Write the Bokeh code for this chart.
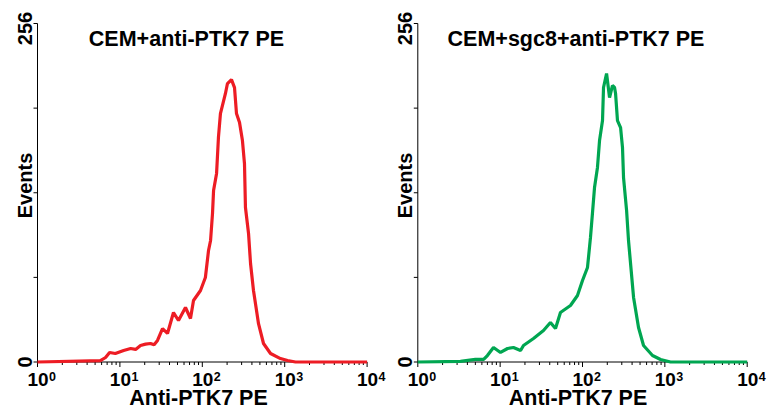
import math
from bokeh.plotting import figure
from bokeh.layouts import row
from bokeh.models import Range1d, Label
from bokeh.embed import file_html
from bokeh.resources import INLINE

# ---- data ----
titles = ["CEM+anti-PTK7 PE", "CEM+sgc8+anti-PTK7 PE"]
colors = ["#ED1C24", "#00A651"]
x_label = "Anti-PTK7 PE"
y_label = "Events"

x_ticks = [1, 10, 100, 1000, 10000]
x_tick_base = "10"
x_tick_exps = ["0", "1", "2", "3", "4"]
x_minor = [2, 3, 4, 5, 6, 7, 8, 9, 20, 30, 40, 50, 60, 70, 80, 90,
           200, 300, 400, 500, 600, 700, 800, 900,
           2000, 3000, 4000, 5000, 6000, 7000, 8000, 9000]
y_ticks = [0, 64, 128, 192, 256]
y_tick_labels = ["0", "", "", "", "256"]

# left panel: CEM + anti-PTK7 PE
fl_a = [1, 5.8, 6.7, 7.5, 8.8, 11.1, 13.5, 15.5, 17.8, 20.5, 23.5, 26, 28.6,
        32.9, 37.8, 44.7, 51.4, 62.5, 71.9, 78.2, 95.1, 109, 119, 126, 133,
        137, 149, 157, 166, 191, 202, 226, 246, 260, 283, 307, 325, 334, 364,
        385, 418, 481, 553, 673, 889, 1082, 1352, 10000]
ev_a = [0, 1, 3.4, 7.2, 6.4, 8.7, 10.2, 9.5, 12.5, 13.5, 14.0, 13.0, 16.3,
        25.3, 21.6, 37.4, 31.4, 41.2, 32.9, 46.5, 54.1, 63.9, 84.3, 91.9,
        112.3, 129.7, 142.6, 169.8, 187.9, 203.1, 210.6, 213.6, 207.5, 187.9,
        181.1, 167.5, 150.1, 116.8, 97.2, 74.5, 54.1, 29.0, 14.0, 6.4, 2.6,
        1.1, 0, 0]

# right panel: CEM + sgc8 + anti-PTK7 PE
fl_b = [1, 3.3, 5.0, 6.3, 7.0, 8.3, 10.1, 12.3, 14.5, 17.7, 19.2, 25.4, 33.6,
        40.8, 47.0, 54.0, 71.4, 86.9, 100, 115, 125, 132, 140, 152, 161, 175,
        180, 196, 213, 231, 245, 252, 266, 290, 306, 315, 343, 362, 417, 479,
        551, 708, 887, 1172, 10000]
ev_b = [0, 0.5, 2, 2, 4.9, 11.0, 7.2, 10.2, 11.0, 8.7, 12.5, 17.8, 23.8, 29.9,
        25.3, 37.4, 42.7, 50.3, 61.6, 71.5, 94.2, 112.3, 132.0, 147.1, 167.5,
        182.6, 207.6, 218.2, 200.0, 209.1, 207.6, 203.1, 182.6, 177.3, 162.2,
        139.5, 114.6, 91.9, 48.8, 26.1, 12.5, 4.9, 1.9, 0, 0]

FONT = "Liberation Sans"
FIG_H = 415          # figure height (px)
Y0_PX = 361.5        # page y of Events = 0
Y256_PX = 23.0       # page y of Events = 256
PPU = (Y0_PX - Y256_PX) / 256.0   # px per event unit
SHIFT = 0.38         # observed drop of drawn glyphs below the anchor, x font size
TOP_LABEL_NUDGE = 5  # px the top y tick label sits below its tick


def make_panel(xs, ys, title, color, left_px, width, x0_px, dec_px,
               title_cx, xlabel_cx):
    # helpers mapping page pixels to data coordinates of this panel
    def fx(px):
        return 10 ** ((px - x0_px) / dec_px)

    def fy(py):
        return (Y0_PX - py) / PPU

    def label(x, y, text, size, **kw):
        return Label(x=x, y=y, text=text, text_font=FONT,
                     text_font_style="bold", text_font_size=f"{size}px",
                     text_color="black", text_baseline="alphabetic", **kw)

    p = figure(width=width, height=FIG_H, x_axis_type="log",
               x_axis_location=None, y_axis_location=None,
               x_range=Range1d(fx(left_px), fx(left_px + width)),
               y_range=Range1d(fy(FIG_H), fy(0)),
               output_backend="svg", toolbar_location=None, min_border=0)
    p.outline_line_color = None
    for g in p.grid:
        g.visible = False
    p.background_fill_color = "white"
    p.border_fill_color = "white"

    n = len(x_ticks)
    # x axis: line, major and minor ticks
    p.segment(x0=[x_ticks[0]], y0=[0], x1=[x_ticks[-1]], y1=[0],
              line_color="black", line_width=1)
    p.segment(x0=x_ticks, y0=[0] * n, x1=x_ticks, y1=[-5 / PPU] * n,
              line_color="black", line_width=1)
    m = len(x_minor)
    p.segment(x0=x_minor, y0=[0] * m, x1=x_minor, y1=[-3 / PPU] * m,
              line_color="black", line_width=1)
    # y axis: line and ticks
    p.segment(x0=[x_ticks[0]], y0=[y_ticks[0]], x1=[x_ticks[0]],
              y1=[y_ticks[-1]], line_color="black", line_width=1)
    k = len(y_ticks)
    p.segment(x0=[x_ticks[0]] * k, y0=y_ticks, x1=[fx(x0_px - 4)] * k,
              y1=y_ticks, line_color="black", line_width=1)

    # data
    p.line(xs, ys, line_color=color, line_width=3.2)

    # x tick labels: "10" centred on the tick plus a superscript exponent
    for t, e in zip(x_ticks, x_tick_exps):
        p.add_layout(label(t, fy(386 - SHIFT * 19), x_tick_base, 19,
                           x_offset=0.5, text_align="center"))
        p.add_layout(label(t, fy(380.5 - SHIFT * 12.5), e, 12.5,
                           x_offset=11.5, text_align="left"))
    # y tick labels (rotated, reading upwards)
    for t, lab in zip(y_ticks, y_tick_labels):
        if lab:
            nudge = TOP_LABEL_NUDGE / PPU if t == y_ticks[-1] else 0
            p.add_layout(label(fx(x0_px - 5 - SHIFT * 20), t - nudge, lab, 20,
                               angle=math.pi / 2, text_align="center"))
    # axis titles
    p.add_layout(label(fx(x0_px - 5 - SHIFT * 20), fy(185), y_label, 20,
                       angle=math.pi / 2, text_align="center"))
    p.add_layout(label(fx(xlabel_cx), fy(406 - SHIFT * 21.5), x_label, 21.5,
                       text_align="center"))
    # panel title
    p.add_layout(label(fx(title_cx), fy(47 - SHIFT * 21.5), title, 21.5,
                       text_align="center"))
    return p


p1 = make_panel(fl_a, ev_a, titles[0], colors[0], 0, 388, 37.0, 82.4,
                186, 198)
p2 = make_panel(fl_b, ev_b, titles[1], colors[1], 388, 382, 417.3, 82.35,
                575.5, 577.5)

layout = row(p1, p2)
open("out.html", "w").write(file_html(layout, INLINE))
